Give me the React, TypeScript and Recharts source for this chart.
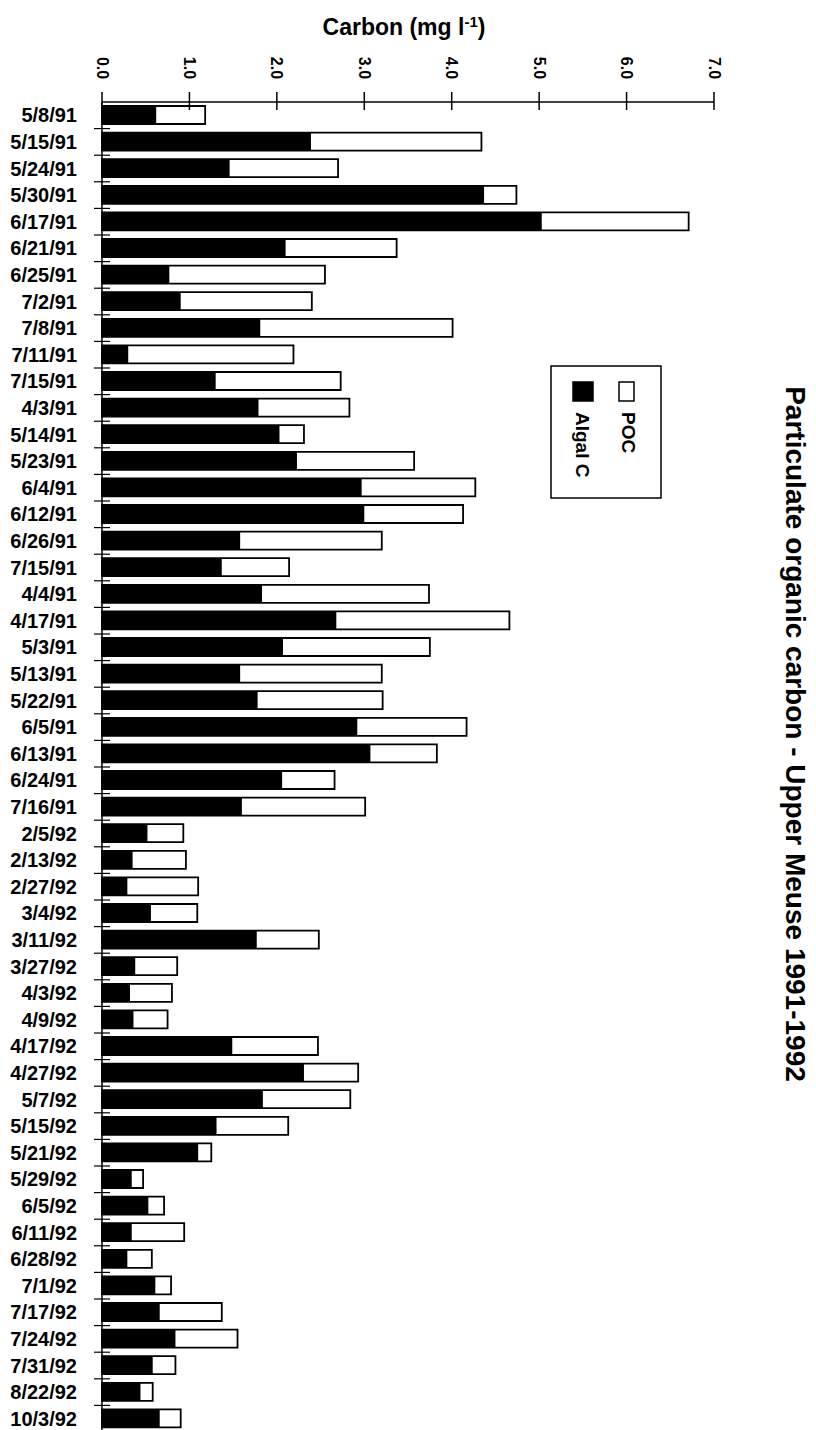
import React from 'react';
import { BarChart, Bar, XAxis, YAxis, Legend } from 'recharts';

// sampling dates, top to bottom as in the figure
const dates = [
  '5/8/91', '5/15/91', '5/24/91', '5/30/91', '6/17/91', '6/21/91', '6/25/91', '7/2/91', '7/8/91', '7/11/91',
  '7/15/91', '4/3/91', '5/14/91', '5/23/91', '6/4/91', '6/12/91', '6/26/91', '7/15/91', '4/4/91', '4/17/91',
  '5/3/91', '5/13/91', '5/22/91', '6/5/91', '6/13/91', '6/24/91', '7/16/91', '2/5/92', '2/13/92', '2/27/92',
  '3/4/92', '3/11/92', '3/27/92', '4/3/92', '4/9/92', '4/17/92', '4/27/92', '5/7/92', '5/15/92', '5/21/92',
  '5/29/92', '6/5/92', '6/11/92', '6/28/92', '7/1/92', '7/17/92', '7/24/92', '7/31/92', '8/22/92', '10/3/92',
];

// total particulate organic carbon (mg/l)
const poc = [
  1.18, 4.34, 2.70, 4.74, 6.71, 3.37, 2.55, 2.40, 4.01, 2.19,
  2.73, 2.83, 2.31, 3.57, 4.27, 4.13, 3.20, 2.14, 3.74, 4.66,
  3.75, 3.20, 3.21, 4.17, 3.83, 2.66, 3.01, 0.93, 0.96, 1.10,
  1.09, 2.48, 0.86, 0.80, 0.75, 2.47, 2.93, 2.84, 2.13, 1.25,
  0.47, 0.71, 0.94, 0.57, 0.79, 1.37, 1.55, 0.84, 0.58, 0.90,
];

// algal carbon part (mg/l)
const algalC = [
  0.62, 2.39, 1.46, 4.37, 5.03, 2.10, 0.77, 0.90, 1.81, 0.30,
  1.30, 1.79, 2.03, 2.23, 2.97, 3.00, 1.58, 1.37, 1.83, 2.68,
  2.07, 1.58, 1.78, 2.92, 3.07, 2.06, 1.60, 0.52, 0.35, 0.29,
  0.56, 1.77, 0.38, 0.32, 0.36, 1.49, 2.31, 1.84, 1.31, 1.10,
  0.34, 0.53, 0.34, 0.29, 0.61, 0.66, 0.84, 0.58, 0.44, 0.66,
];

const xTicks = [0, 1, 2, 3, 4, 5, 6, 7];

const FONT = '"Liberation Sans", Arial, Helvetica, sans-serif';

const data = dates.map((d, i) => ({ date: d, poc: poc[i], algal: algalC[i] }));

// top axis tick: line crossing the axis + rotated label
const CarbonTick = ({ x, payload }: any) => (
  <g>
    <line x1={x} y1={92} x2={x} y2={110} stroke="#000" strokeWidth={1.5} />
    <text
      x={x}
      y={68}
      transform={`rotate(90, ${x}, 68)`}
      textAnchor="middle"
      dominantBaseline="central"
      fontFamily={FONT}
      fontWeight="bold"
      fontSize={16}
      fill="#000"
    >
      {payload.value.toFixed(1)}
    </text>
  </g>
);

// date labels, with small tick marks between the bars
const DateTick = ({ y, payload }: any) => (
  <g>
    <line x1={94} y1={y + 13.3} x2={110} y2={y + 13.3} stroke="#000" strokeWidth={1.2} />
    <text
      x={77}
      y={y}
      textAnchor="end"
      dominantBaseline="central"
      fontFamily={FONT}
      fontWeight="bold"
      fontSize={20}
      fill="#000"
    >
      {payload.value}
    </text>
  </g>
);

const LegendBox = ({ payload }: any) => (
  <svg width={112} height={134}>
    <rect x={1} y={1} width={110} height={132} fill="#fff" stroke="#000" strokeWidth={1.5} />
    {(payload || []).map((entry: any) => {
      const dark = entry.dataKey === 'algal';
      const cx = dark ? 32 : 78;
      return (
        <g key={entry.value}>
          <rect
            x={cx - 9}
            y={17}
            width={dark ? 20 : 15}
            height={19}
            fill={dark ? '#000' : '#fff'}
            stroke="#000"
            strokeWidth={1.5}
          />
          <text
            x={cx}
            y={47}
            transform={`rotate(90, ${cx}, 47)`}
            dominantBaseline="central"
            fontFamily={FONT}
            fontWeight="bold"
            fontSize={19}
            fill="#000"
          >
            {entry.value}
          </text>
        </g>
      );
    })}
  </svg>
);

export default function App() {
  return (
    <div style={{ position: 'absolute', left: 0, top: 0, width: 816, height: 1430, overflow: 'hidden', background: '#fff' }}>
      <div
        style={{
          position: 'absolute',
          left: 404,
          top: 27,
          transform: 'translate(-50%, -50%)',
          fontFamily: FONT,
          fontWeight: 'bold',
          fontSize: 23,
          whiteSpace: 'nowrap',
        }}
      >
        Carbon (mg l<sup style={{ fontSize: 15 }}>-1</sup>)
      </div>
      <div
        style={{
          position: 'absolute',
          left: 795,
          top: 734,
          transform: 'translate(-50%, -50%) rotate(90deg)',
          fontFamily: FONT,
          fontWeight: 'bold',
          fontSize: 28,
          whiteSpace: 'nowrap',
        }}
      >
        Particulate organic carbon - Upper Meuse 1991-1992
      </div>
      <BarChart
        width={816}
        height={1432}
        data={data}
        layout="vertical"
        margin={{ top: 72, right: 102, left: 0, bottom: 0 }}
        barSize={18}
        barGap={-18}
      >
        <XAxis
          type="number"
          orientation="top"
          domain={[0, 7]}
          ticks={xTicks}
          height={30}
          axisLine={{ stroke: '#000', strokeWidth: 1.5 }}
          tickLine={false}
          tick={<CarbonTick />}
          interval={0}
        />
        <YAxis
          type="category"
          dataKey="date"
          width={102}
          axisLine={{ stroke: '#000', strokeWidth: 1.5 }}
          tickLine={false}
          tick={<DateTick />}
          interval={0}
        />
        <Legend
          layout="horizontal"
          verticalAlign="middle"
          align="center"
          content={<LegendBox />}
          wrapperStyle={{ position: 'absolute', left: 550, top: 365, width: 112, height: 134 }}
        />
        <Bar dataKey="poc" name="POC" fill="#fff" stroke="#000" strokeWidth={1.8} isAnimationActive={false} />
        <Bar dataKey="algal" name="Algal C" fill="#000" isAnimationActive={false} />
      </BarChart>
    </div>
  );
}
